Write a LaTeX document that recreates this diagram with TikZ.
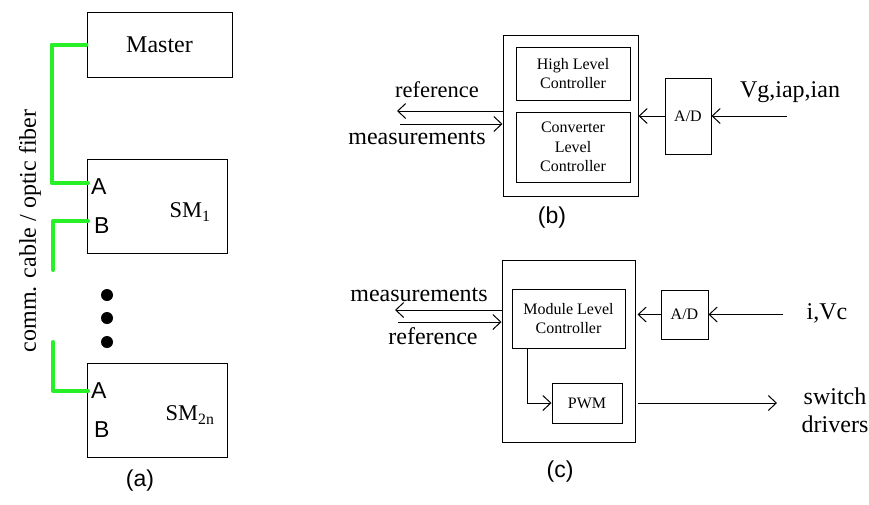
\documentclass[tikz,border=0pt]{standalone}
\usepackage{fontspec}
\setmainfont{Liberation Serif}
\newfontfamily\arialf{Liberation Sans}
\usetikzlibrary{arrows.meta}
\definecolor{cablegreen}{RGB}{40,240,40}

\begin{document}
\begin{tikzpicture}[x=1pt,y=-1pt,
  box/.style={draw, line width=1pt, rectangle, inner sep=0pt, align=center},
  link/.style={draw=cablegreen, line width=4pt, line cap=round, line join=round},
  arr/.style={line width=1pt, -{Straight Barb[length=8pt,width=15pt,line width=1pt]}},
  big/.style={font=\fontsize{24}{28}\selectfont, inner sep=0pt},
  mid/.style={font=\fontsize{22.5}{26}\selectfont, inner sep=0pt},
  small/.style={font=\fontsize{16}{19.5}\selectfont},
  port/.style={font=\arialf\fontsize{23}{26}\selectfont, inner sep=0pt, anchor=west},
  captionlbl/.style={font=\arialf\fontsize{23}{26}\selectfont, inner sep=0pt}
]
\useasboundingbox (0,0) rectangle (869,504);

% ---------------- (a) chain of submodules ----------------
\node[box, big, minimum width=145pt, minimum height=65pt] (master) at (159.5,44.5) {Master};
\node[box, minimum width=140pt, minimum height=94pt] (sm1) at (157,206) {};
\node[box, minimum width=140pt, minimum height=94pt] (sm2n) at (157,410) {};
\node[mid] (sm1lbl) at (190,212) {SM\textsubscript{1}};
\node[mid] (sm2nlbl) at (190,415) {SM\textsubscript{2n}};

\coordinate (sm1a) at (88,183);
\coordinate (sm1b) at (88,221);
\coordinate (sm2na) at (88,391);
\coordinate (bend1) at (53,270);
\coordinate (bend2) at (53,342);

\node[port] (pa1) at (91,187) {A};
\node[port] (pb1) at (94,226) {B};
\node[port] (pa2) at (91,391) {A};
\node[port] (pb2) at (94,430) {B};

\draw[link] (master.west) -- ++(-35,0) |- (sm1a);
\draw[link] (sm1b) -| (bend1);
\draw[link] (bend2) |- (sm2na);

\fill (107,295) circle (6pt);
\fill (107,318) circle (6pt);
\fill (107,342) circle (6pt);

\node[big, rotate=90] (cablelbl) at (30,231) {comm. cable / optic fiber};
\node[captionlbl] (capa) at (140,481) {(a)};

% ---------------- (b) converter level controller ----------------
\node[box, minimum width=135pt, minimum height=161pt] (outb) at (570.5,115.5) {};
\node[box, small, minimum width=114pt, minimum height=53pt] (hlc) at (573,73.5) {High Level\\Controller};
\node[box, small, minimum width=114pt, minimum height=70pt] (clc) at (573,147) {Converter\\Level\\Controller};
\node[box, small, minimum width=46pt, minimum height=76pt] (adb) at (688,116) {A/D};

\coordinate (vinb) at (787,116);
\coordinate (refb) at (397,111);
\coordinate (measb) at (400,124);
\draw[arr] (vinb) -- (adb.east);
\draw[arr] (adb.west) -- (adb.west -| outb.east);
\draw[arr] (refb -| outb.west) -- (refb);
\draw[arr] (measb) -- (measb -| outb.west);

\node[mid] (refblbl) at (437,90) {reference};
\node[big] (measblbl) at (417,138) {measurements};
\node[big] (vgblbl) at (790,92) {Vg,iap,ian};
\node[captionlbl] (capb) at (552,218) {(b)};

% ---------------- (c) module level controller ----------------
\node[box, minimum width=133pt, minimum height=182pt] (outc) at (568.5,351) {};
\node[box, small, minimum width=113pt, minimum height=59pt] (mlc) at (568.5,318.5) {Module Level\\Controller};
\node[box, small, minimum width=47pt, minimum height=49pt] (adc) at (684.5,314.5) {A/D};
\node[box, small, minimum width=70pt, minimum height=40pt] (pwm) at (587,403) {PWM};

\coordinate (vinc) at (783,314.5);
\coordinate (measc) at (395,310);
\coordinate (refc) at (398,322);
\coordinate (drv) at (777,403);
\draw[arr] (vinc) -- (adc.east);
\draw[arr] (adc.west) -- ([xshift=2pt]adc.west -| outc.east);
\draw[arr] (measc -| outc.west) -- (measc);
\draw[arr] (refc) -- (refc -| outc.west);
\draw[arr] ([xshift=-41.5pt]mlc.south) |- (pwm.west);
\draw[arr] ([xshift=2pt]outc.east |- pwm.east) -- (drv);

\node[big] (meascl) at (419,295) {measurements};
\node[big] (refcl) at (433,336) {reference};
\node[big] (ivc) at (827,313) {i,Vc};
\node[big, align=center] (drvlbl) at (835,410) {switch\\drivers};
\node[captionlbl] (capc) at (560,472) {(c)};
\end{tikzpicture}
\end{document}
